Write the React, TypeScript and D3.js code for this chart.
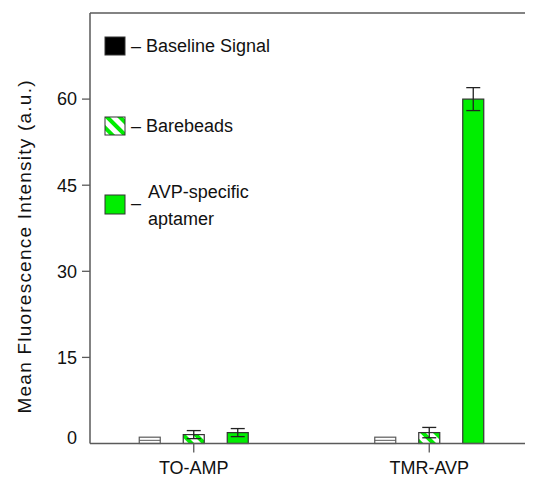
import React from "react";
import * as d3 from "d3";

const categories = ["TO-AMP", "TMR-AVP"];
const series = ["Baseline Signal", "Barebeads", "AVP-specific aptamer"];
const baselineValues = [1.1, 1.1];
const barebeadsValues = [1.55, 1.9];
const barebeadsErr = [0.7, 0.9];
const aptamerValues = [1.9, 60.0];
const aptamerErr = [0.7, 2.0];
const yTicks = [0, 15, 30, 45, 60];
const yLabel = "Mean Fluorescence Intensity (a.u.)";

const W = 533;
const H = 479;
const GREEN = "#00ee00";
const AX = "#5a5a5a";
const FONT = "Liberation Sans, Arial, sans-serif";

export default function App() {
  const left = 90;
  const top = 13;
  const y = d3.scaleLinear().domain([0, 75]).range([443.5, top]);
  const x0 = d3.scaleBand<string>().domain(categories).range([76, 547]).padding(0);
  const x1 = d3.scalePoint<string>().domain(series).range([-44, 44]);
  const bw = 21;
  const cap = 14;
  const cx = (c: string) => (x0(c) as number) + x0.bandwidth() / 2;

  const errBar = (xc: number, v: number, e: number, key: string) => (
    <g key={key} stroke="#222" strokeWidth={1.3}>
      <line x1={xc} x2={xc} y1={y(v + e)} y2={y(Math.max(0, v - e))} />
      <line x1={xc - cap / 2} x2={xc + cap / 2} y1={y(v + e)} y2={y(v + e)} />
      <line x1={xc - cap / 2} x2={xc + cap / 2} y1={y(v - e)} y2={y(v - e)} />
    </g>
  );

  return (
    <div style={{ margin: "-8px -8px 0 -8px", height: H }}>
      <svg width={W} height={H} style={{ display: "block", background: "#fff" }} fontFamily={FONT}>
        <defs>
          <pattern id="hatch" patternUnits="userSpaceOnUse" width={9} height={9} patternTransform="rotate(-45)">
            <rect x={0} y={0} width={9} height={9} fill="#fff" />
            <rect x={0} y={0} width={4} height={9} fill={GREEN} />
          </pattern>
        </defs>

        {/* bars */}
        {categories.map((c, i) => {
          const xc = cx(c);
          const xb = xc + (x1(series[0]) as number);
          const xh = xc + (x1(series[1]) as number);
          const xg = xc + (x1(series[2]) as number);
          return (
            <g key={c}>
              <rect x={xb - bw / 2} y={y(baselineValues[i])} width={bw} height={y(0) - y(baselineValues[i])} fill="#fff" stroke={AX} strokeWidth={1.2} />
              <line x1={xb - bw / 2} x2={xb + bw / 2} y1={y(baselineValues[i] / 2)} y2={y(baselineValues[i] / 2)} stroke={AX} strokeWidth={1} />
              <rect x={xh - bw / 2} y={y(barebeadsValues[i])} width={bw} height={y(0) - y(barebeadsValues[i])} fill="url(#hatch)" stroke="#333" strokeWidth={1.2} />
              <rect x={xg - bw / 2} y={y(aptamerValues[i])} width={bw} height={y(0) - y(aptamerValues[i])} fill={GREEN} stroke="#333" strokeWidth={1.2} />
              {errBar(xh, barebeadsValues[i], barebeadsErr[i], "eb" + i)}
              {errBar(xg, aptamerValues[i], aptamerErr[i], "eg" + i)}
            </g>
          );
        })}

        {/* axes */}
        <line x1={left} x2={W} y1={top} y2={top} stroke={AX} strokeWidth={1.5} />
        <line x1={left} x2={left} y1={top} y2={y(0)} stroke={AX} strokeWidth={1.5} />
        <line x1={left} x2={W} y1={y(0)} y2={y(0)} stroke={AX} strokeWidth={1.5} />
        {yTicks.map((t) => (
          <g key={t}>
            {t !== 0 && <line x1={left - 8} x2={left} y1={y(t)} y2={y(t)} stroke={AX} strokeWidth={1.3} />}
            <text x={77} y={t === 0 ? y(t) - 6 : y(t)} dy="0.35em" textAnchor="end" fontSize={18} fill="#111">
              {t}
            </text>
          </g>
        ))}
        {categories.map((c) => (
          <g key={"xt" + c}>
            <line x1={cx(c)} x2={cx(c)} y1={y(0)} y2={y(0) + 9} stroke={AX} strokeWidth={1.3} />
            <text x={cx(c)} y={474} textAnchor="middle" fontSize={18} fill="#111">
              {c}
            </text>
          </g>
        ))}
        <text
          transform={`translate(31, 247) rotate(-90)`}
          textAnchor="middle"
          fontSize={19}
          textLength={333}
          lengthAdjust="spacing"
          fill="#111"
        >
          {yLabel}
        </text>

        {/* legend */}
        <g fontSize={18} fill="#111">
          <rect x={105} y={37} width={20} height={18} fill="#000" stroke="#333" />
          <text x={131} y={52}>– {series[0]}</text>
          <rect x={105} y={117} width={20} height={18} fill="url(#hatch)" stroke="#333" />
          <text x={131} y={132}>– {series[1]}</text>
          <rect x={105} y={195} width={20} height={19} fill={GREEN} stroke="#333" />
          <text x={131} y={209}>–</text>
          <text x={148} y={198}>AVP-specific</text>
          <text x={148} y={225}>aptamer</text>
        </g>
      </svg>
    </div>
  );
}
